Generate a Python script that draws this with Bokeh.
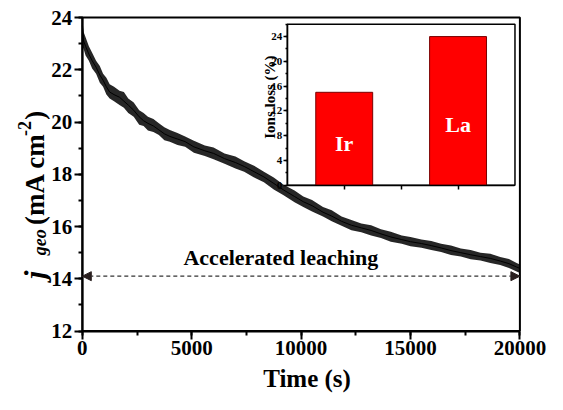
import math
from bokeh.plotting import figure
from bokeh.models import (Range1d, LinearAxis, SingleIntervalTicker, FixedTicker,
                          Label, Arrow, NormalHead, ColumnDataSource)
from bokeh.core.properties import value
from bokeh.embed import file_html
from bokeh.resources import INLINE

# ---------------- data ----------------
time_s = [0, 60, 150, 300, 450, 630, 800, 950, 1100, 1250, 1450, 1700, 1900, 2100,
          2350, 2600, 2800, 3000, 3250, 3500, 3750, 4000, 4350, 4700, 5100, 5600,
          6000, 6500, 7000, 7400, 7850, 8300, 8750, 9200, 9700, 10100, 10500, 11000,
          11400, 11850, 12300, 12750, 13200, 13650, 14100, 14600, 15000, 15500, 15950,
          16400, 16850, 17300, 17750, 18200, 18650, 19100, 19500, 19850, 20000]
j_mid = [23.7, 23.1, 22.9, 22.6, 22.35, 22.1, 21.8, 21.6, 21.35, 21.15, 21.05, 20.95,
         20.8, 20.65, 20.45, 20.2, 20.05, 19.95, 19.85, 19.7, 19.55, 19.45, 19.35,
         19.25, 19.05, 18.9, 18.8, 18.6, 18.45, 18.3, 18.1, 17.9, 17.65, 17.4, 17.15,
         16.95, 16.8, 16.55, 16.4, 16.2, 16.05, 15.95, 15.85, 15.72, 15.6, 15.5, 15.42,
         15.35, 15.27, 15.18, 15.08, 15.0, 14.92, 14.85, 14.78, 14.68, 14.58, 14.45, 14.4]
j_low = [22.9, 22.8, 22.55, 22.35, 22.05, 21.85, 21.5, 21.35, 21.05, 20.9, 20.8, 20.65,
         20.55, 20.35, 20.2, 19.9, 19.85, 19.68, 19.62, 19.5, 19.3, 19.25, 19.12, 19.05,
         18.82, 18.7, 18.58, 18.4, 18.22, 18.1, 17.88, 17.7, 17.42, 17.2, 16.93, 16.75,
         16.58, 16.38, 16.2, 16.03, 15.86, 15.78, 15.66, 15.56, 15.42, 15.34, 15.25,
         15.19, 15.1, 15.03, 14.91, 14.85, 14.75, 14.7, 14.6, 14.53, 14.41, 14.28, 14.22]
j_high = [24.0, 23.45, 23.25, 22.9, 22.65, 22.35, 22.15, 21.85, 21.7, 21.45, 21.35, 21.2,
          21.15, 20.9, 20.75, 20.45, 20.35, 20.2, 20.12, 19.95, 19.8, 19.7, 19.58, 19.45,
          19.28, 19.1, 19.03, 18.8, 18.68, 18.5, 18.33, 18.1, 17.88, 17.6, 17.38, 17.15,
          17.02, 16.75, 16.62, 16.38, 16.25, 16.12, 16.05, 15.9, 15.8, 15.66, 15.6,
          15.5, 15.45, 15.34, 15.27, 15.16, 15.1, 15.0, 14.96, 14.83, 14.76, 14.6, 14.55]

ions = ["Ir", "La"]
ions_loss = [15, 24]
ion_pos = [1, 2]
ion_label_y = [6.7, 9.8]

x_tick_interval = 5000
y_tick_interval = 2
inset_tick_interval = 4
arrow_y = 14.1

FONT = "Liberation Serif"

# ---------------- geometry: reference px -> canvas px ----------------
W, H = 547, 394
SX, SY = W / 555, H / 416


def cx(rx):
    return (rx - 8) * SX


def cy(ry):  # from the top
    return (ry - 4) * SY


def make_range(a, pa, b, pb, L):
    upp = (b - a) / (pb - pa)
    start = a - pa * upp
    return Range1d(start, start + L * upp)


X0, X1, Y0, Y1 = 0, 20000, 12, 24
xr = make_range(X0, cx(91), X1, cx(535), W)
yr = make_range(Y0, H - cy(353), Y1, H - cy(22), H)


def dx(rx):
    return xr.start + cx(rx) / W * (xr.end - xr.start)


def dy(ry):
    return yr.start + (H - cy(ry)) / H * (yr.end - yr.start)


p = figure(width=W, height=H, x_range=xr, y_range=yr, output_backend="svg",
           toolbar_location=None, x_axis_location=None, y_axis_location=None,
           min_border=0, min_border_left=0, min_border_right=0, min_border_top=0,
           min_border_bottom=0, background_fill_color="white", border_fill_color="white")
p.grid.visible = False
p.outline_line_color = None

# ---------------- curve ----------------
p.varea(x=time_s, y1=j_low, y2=j_high, fill_color="black", fill_alpha=0.85)
p.line(x=time_s, y=j_mid, line_color="black", line_width=1)

# ---------------- main frame and axes ----------------
p.quad(left=X0, right=X1, bottom=Y0, top=Y1, fill_color=None, line_color="black", line_width=2)
x_ax = LinearAxis(fixed_location=Y0, bounds=(X0, X1),
                  ticker=SingleIntervalTicker(interval=x_tick_interval, num_minor_ticks=2))
y_ax = LinearAxis(fixed_location=X0, bounds=(Y0, Y1),
                  ticker=SingleIntervalTicker(interval=y_tick_interval, num_minor_ticks=2))
for ax in (x_ax, y_ax):
    ax.axis_line_width = 2
    ax.major_tick_line_width = 2
    ax.minor_tick_line_width = 2
    ax.major_tick_out = 8
    ax.major_tick_in = 0
    ax.minor_tick_out = 4
    ax.minor_tick_in = 0
    ax.major_label_text_font = FONT
    ax.major_label_text_font_style = "bold"
    ax.major_label_text_font_size = "21px"
    ax.major_label_text_color = "black"
    ax.major_label_standoff = 2
p.add_layout(x_ax, "below")
p.add_layout(y_ax, "left")

# ---------------- arrow + text ----------------
p.add_layout(Arrow(x_start=X0, y_start=arrow_y, x_end=X1, y_end=arrow_y,
                   start=NormalHead(size=9, fill_color="#2a2020", line_color="#2a2020"),
                   end=NormalHead(size=9, fill_color="#2a2020", line_color="#2a2020"),
                   line_color="#333333", line_width=1.2, line_dash="4 3"))
p.add_layout(Label(x=dx(292.5), y=dy(275), text="Accelerated leaching", text_font=FONT,
                   text_font_style="bold", text_font_size="22px", text_align="center",
                   text_baseline="alphabetic", text_color="black"))

# ---------------- axis titles ----------------
p.add_layout(Label(x=dx(319), y=dy(403), text="Time (s)", text_font=FONT,
                   text_font_style="bold", text_font_size="25px", text_align="center",
                   text_baseline="alphabetic", text_color="black"))
ylab_parts = [
    # text, baseline ref-x, start ref-y, size, style
    ("j", 43, 298, "30px", "bold italic"),
    ("geo", 48, 273, "18px", "bold italic"),
    ("(mA cm", 43, 241, "27px", "bold"),
    ("-2", 32, 147, "18px", "bold"),
    (")", 43, 130, "27px", "bold"),
]
for txt, bx, sy, size, style in ylab_parts:
    p.add_layout(Label(x=dx(bx), y=dy(sy), text=txt, angle=math.pi / 2,
                       text_font=FONT, text_font_style=style, text_font_size=size,
                       text_align="left", text_baseline="alphabetic", text_color="black"))

# ---------------- inset ----------------
IX0, IX1, IY0, IY1 = 0.5, 2.5, 0, 26
p.extra_x_ranges = {"ix": make_range(IX0, cx(299), IX1, cx(530), W)}
p.extra_y_ranges = {"iy": make_range(IY0, H - cy(199), IY1, H - cy(29), H)}

p.quad(left=IX0, right=IX1, bottom=IY0, top=IY1, x_range_name="ix", y_range_name="iy",
       fill_color="white", line_color="black", line_width=1.5)
src = ColumnDataSource(dict(x=ion_pos, top=ions_loss, name=ions, ly=ion_label_y))
p.vbar(x="x", top="top", bottom=0, width=0.5, source=src, x_range_name="ix", y_range_name="iy",
       fill_color="#FF0000", line_color="#7a0000", line_width=1)
p.text(x="x", y="ly", text="name", source=src, x_range_name="ix", y_range_name="iy",
       text_font=value(FONT), text_font_style="bold", text_font_size="22px",
       text_color="white", text_align="center", text_baseline="alphabetic")

iy_ax = LinearAxis(x_range_name="ix", y_range_name="iy", fixed_location=IX0, bounds=(IY0, IY1),
                   ticker=SingleIntervalTicker(interval=inset_tick_interval, num_minor_ticks=2))
ix_ax = LinearAxis(x_range_name="ix", y_range_name="iy", fixed_location=IY0, bounds=(IX0, IX1),
                   ticker=FixedTicker(ticks=[1, 1.5, 2], minor_ticks=[]))
for ax in (iy_ax, ix_ax):
    ax.axis_line_width = 1.5
    ax.major_tick_line_width = 1.5
    ax.minor_tick_line_width = 1.5
    ax.major_tick_out = 4
    ax.major_tick_in = 0
    ax.minor_tick_out = 2
    ax.minor_tick_in = 0
    ax.major_label_text_font = FONT
    ax.major_label_text_font_style = "bold"
    ax.major_label_text_font_size = "11px"
    ax.major_label_standoff = 1
iy_ax.major_label_text_color = "black"
ix_ax.major_label_text_color = None
p.add_layout(iy_ax, "left")
p.add_layout(ix_ax, "below")

ix_r = p.extra_x_ranges["ix"]
ix_lab = IX0 + (cx(281) - cx(299)) * (ix_r.end - ix_r.start) / W
iy_r = p.extra_y_ranges["iy"]
iy_lab = iy_r.start + (H - cy(106)) / H * (iy_r.end - iy_r.start)
p.add_layout(Label(x=ix_lab, y=iy_lab, x_range_name="ix", y_range_name="iy", text="Ions loss (%)",
                   angle=math.pi / 2, text_font=FONT, text_font_style="bold",
                   text_font_size="15px", text_align="center", text_baseline="alphabetic",
                   text_color="black"))

open("out.html", "w").write(file_html(p, INLINE))
